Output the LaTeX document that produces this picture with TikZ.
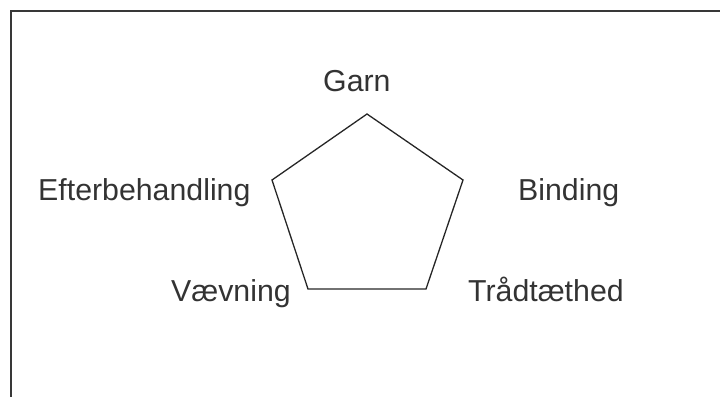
\documentclass[tikz,border=0pt]{standalone}
\usepackage{fontspec}
\setmainfont{Liberation Sans}
\begin{document}
\begin{tikzpicture}[x=1bp,y=-1bp,
  lbl/.style={anchor=base west,inner sep=0pt,text=black!80,font=\fontsize{30.3bp}{36bp}\selectfont},
  frame/.style={draw=black!78,line width=2bp},
  pent/.style={draw=black!85,line width=1.3bp,line join=miter}]
\useasboundingbox (0,0) rectangle (720,396);
\clip (0,0) rectangle (720,396);
\coordinate (fb) at (11,400);
\coordinate (fc) at (11,11);
\coordinate (fr) at (724,11);
\draw[frame] (fb) -- (fc) -- (fr);
\coordinate (p1) at (367,114);
\coordinate (p2) at (463,180);
\coordinate (p3) at (426,289);
\coordinate (p4) at (308,289);
\coordinate (p5) at (272,180);
\draw[pent] (p1) -- (p2) -- (p3) -- (p4) -- (p5) -- cycle;
\node[lbl] (garn) at (323,91) {Garn};
\node[lbl] (binding) at (518,200) {Binding};
\node[lbl] (efter) at (38,200) {Efterbehandling};
\node[lbl] (vaev) at (171,301) {Vævning};
\node[lbl] (traad) at (468,301) {Trådtæthed};
\end{tikzpicture}
\end{document}
